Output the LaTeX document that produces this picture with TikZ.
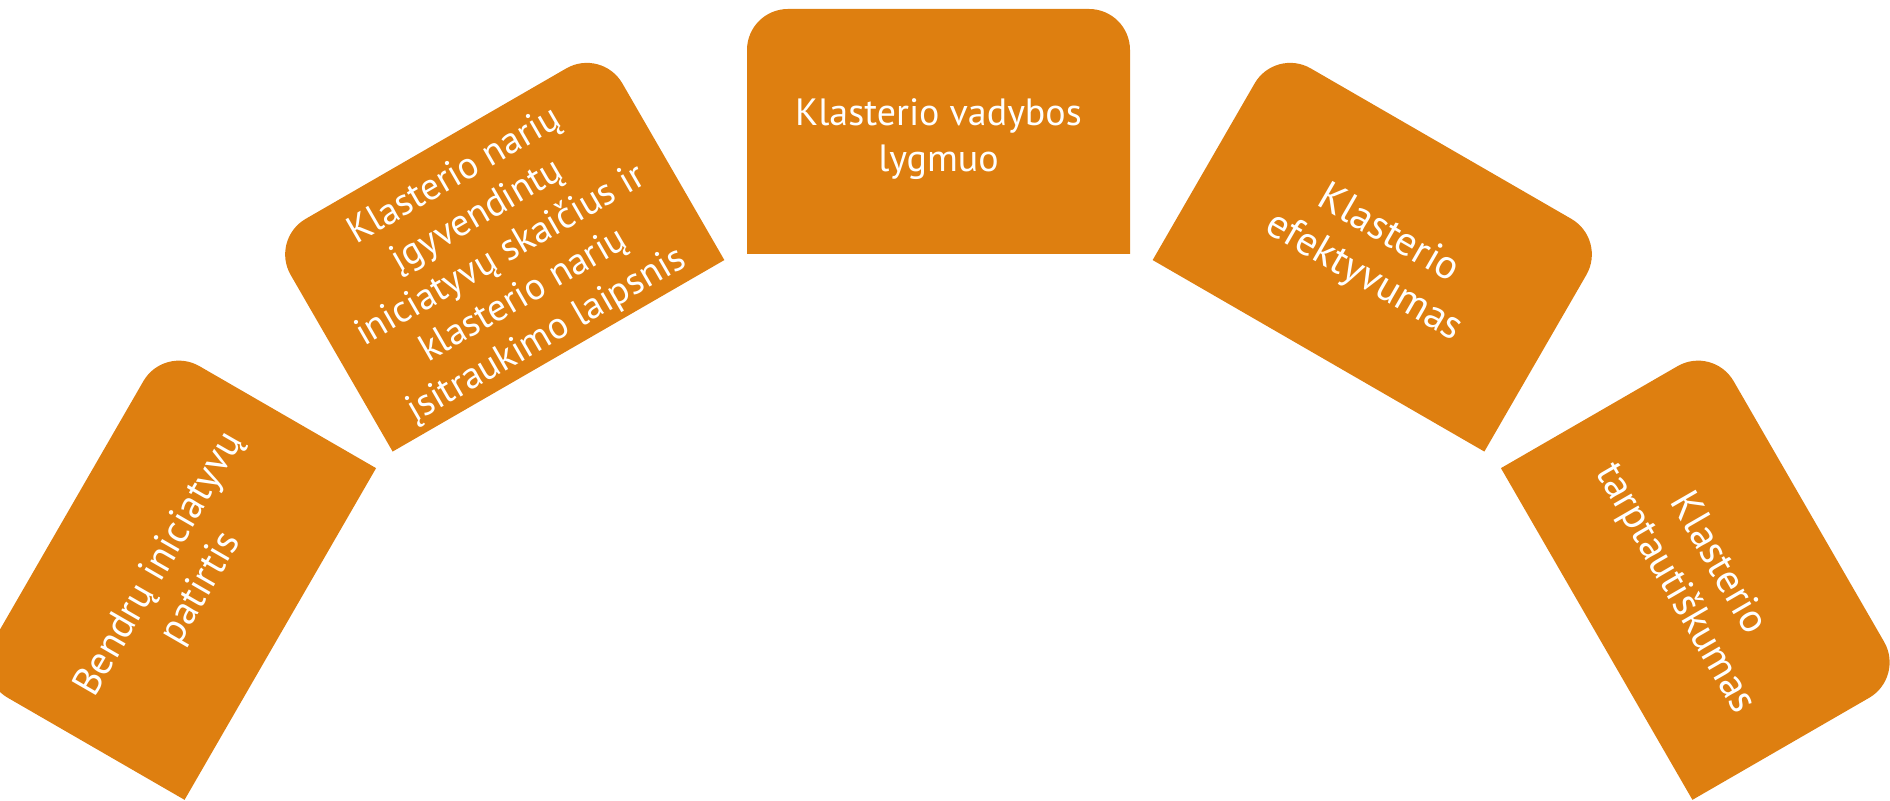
\documentclass[tikz,border=0pt]{standalone}
\usepackage{fontspec}
\setmainfont{PT Sans}
\definecolor{arcorange}{RGB}{222,127,16}
\newcommand\arcpetal[5]{% angle, name, font size, line skip, text
  \begin{scope}[shift={(P)}, rotate=#1]
    \fill[petal] (-191.5,760) -- (191.5,760) -- (191.5,964)
      arc[start angle=0,end angle=90,radius=41] -- (-150.5,1005)
      arc[start angle=90,end angle=180,radius=41] -- cycle;
    \node[petaltext, rotate=#1, font=\fontsize{#3}{#4}\selectfont] (#2) at (0,875) {#5};
  \end{scope}}
\begin{document}
\begin{tikzpicture}[x=0.5pt,y=0.5pt,
  petal/.style={fill=arcorange, draw=none},
  petaltext/.style={text=white, align=center, inner sep=0pt}]
\useasboundingbox (0,0) rectangle (1890,801);
\clip (0,0) rectangle (1890,801);
\coordinate (P) at (938.5,-213);
\arcpetal{60}{patirtis}{20pt}{24pt}{Bendrų iniciatyvų\\patirtis}
\arcpetal{30}{nariai}{19pt}{23pt}{Klasterio narių\\įgyvendintų\\iniciatyvų skaičius ir\\klasterio narių\\įsitraukimo laipsnis}
\arcpetal{0}{vadyba}{19pt}{23pt}{Klasterio vadybos\\lygmuo}
\arcpetal{-30}{efektyvumas}{20.5pt}{24.5pt}{Klasterio\\efektyvumas}
\arcpetal{-60}{tarptautiskumas}{20.5pt}{24.5pt}{Klasterio\\tarptautiškumas}
\end{tikzpicture}
\end{document}
